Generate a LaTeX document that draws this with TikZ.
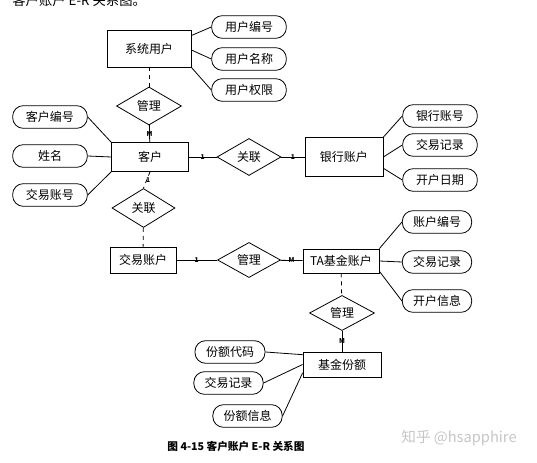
\documentclass[tikz,border=0pt]{standalone}
\usepackage{fontspec}
\setmainfont{Noto Sans CJK SC}
\usetikzlibrary{shapes.geometric}

\begin{document}
\begin{tikzpicture}[x=0.75pt,y=0.75pt,yscale=-1,xscale=1,
  line width=0.6pt,
  entity/.style={draw, inner sep=0.75pt, font=\fontsize{9}{10}\selectfont},
  attrib/.style={draw, rounded corners=8pt, minimum width=56pt, minimum height=17pt, inner sep=0.75pt, font=\fontsize{9}{10}\selectfont},
  relation/.style={draw, diamond, inner sep=0pt, font=\fontsize{9}{10}\selectfont},
  card/.style={inner sep=0.5pt, font=\fontsize{5}{5}\selectfont\bfseries}
]
\useasboundingbox (0,0) rectangle (537,463);

% cut-off line of text above the figure
\node [anchor=west, inner sep=0pt, font=\fontsize{10}{10}\selectfont] (toptext) at (12,0) {客户账户 E-R 关系图。};

% entities
\node [entity, minimum width=63pt, minimum height=27.75pt] (xtyh) at (149,48.5) {系统用户};
\node [entity, minimum width=57.75pt, minimum height=21.75pt] (kehu) at (150,157) {客户};
\node [entity, minimum width=58.5pt, minimum height=29.25pt] (yhzh) at (344,157) {银行账户};
\node [entity, minimum width=49.5pt, minimum height=19.5pt] (jyzh) at (143,260) {交易账户};
\node [entity, minimum width=57pt, minimum height=18pt] (tajj) at (341,261) {TA基金账户};
\node [entity, minimum width=58.5pt, minimum height=18.75pt] (jjfe) at (342,364.5) {基金份额};

% relations
\node [relation, minimum width=48.75pt, minimum height=28.5pt] (guanli1) at (149,106) {管理};
\node [relation, minimum width=48pt, minimum height=27.75pt] (guanlian1) at (249,157) {关联};
\node [relation, minimum width=47.25pt, minimum height=29.25pt] (guanlian2) at (143.5,208) {关联};
\node [relation, minimum width=47.25pt, minimum height=18.75pt] (guanli2) at (249,260) {管理};
\node [relation, minimum width=48.75pt, minimum height=19.5pt] (guanli3) at (342,313) {管理};

% attributes
\node [attrib] (yhbh) at (249,27) {用户编号};
\node [attrib] (yhmc) at (249,59) {用户名称};
\node [attrib] (yhqx) at (249,90) {用户权限};

\node [attrib] (khbh) at (50,117) {客户编号};
\node [attrib] (xm) at (50,156) {姓名};
\node [attrib] (jyzhh) at (50,195) {交易账号};

\node [attrib] (yhzhh) at (440,116) {银行账号};
\node [attrib] (jyjl1) at (440,145) {交易记录};
\node [attrib] (khrq) at (440,180) {开户日期};

\node [attrib, minimum width=52pt] (zhbh) at (437,222) {账户编号};
\node [attrib, minimum width=52pt] (jyjl2) at (437,262) {交易记录};
\node [attrib, minimum width=52pt] (khxx) at (437,301) {开户信息};

\node [attrib, minimum width=52.5pt] (fedm) at (230,352) {份额代码};
\node [attrib, minimum width=52pt] (jyjl3) at (228.5,383) {交易记录};
\node [attrib, minimum width=52pt] (fexx) at (247.5,416) {份额信息};

% attribute lines
\draw (xtyh.17) -- (yhbh.west);
\draw (xtyh.-2) -- (yhmc.west);
\draw (xtyh.south east) -- (yhqx.west);

\draw (khbh.east) -- (kehu.north west);
\draw (xm.east) -- (kehu.west);
\draw (jyzhh.east) -- (kehu.south west);

\draw (yhzh.north east) -- (yhzhh.west);
\draw (yhzh.east) -- (jyjl1.west);
\draw (yhzh.-16) -- (khrq.west);

\draw (tajj.north east) -- (zhbh.west);
\draw (tajj.east) -- (jyjl2.west);
\draw (tajj.-15) -- (khxx.west);

\draw (fedm.east) -- (jjfe.166);
\draw (jyjl3.east) -- (jjfe.west);
\draw (fexx.east) -- (jjfe.192);

% relation lines
\draw [dashed] (xtyh) -- (guanli1);
\draw (guanli1) -- node [card] {M} (kehu);

\draw (kehu) -- node [card] {1} (guanlian1);
\draw (guanlian1) -- node [card] {1} (yhzh);

\draw [dashed] (kehu.south) -- node [card, xshift=1pt] {1} (guanlian2.north);
\draw [dashed] (guanlian2) -- (jyzh);

\draw (jyzh) -- node [card] {1} (guanli2);
\draw (guanli2) -- node [card] {M} (tajj);

\draw [dashed] (tajj) -- (guanli3);
\draw (guanli3) -- node [card] {M} (jjfe);

% caption and watermark
\node [font=\fontsize{8}{8}\selectfont\bfseries] (caption) at (236,446) {图 4-15 客户账户 E-R 关系图};
\node [text=gray!45, font=\fontsize{11}{11}\selectfont] (mark) at (459,438) {知乎 @hsapphire};

\end{tikzpicture}
\end{document}
